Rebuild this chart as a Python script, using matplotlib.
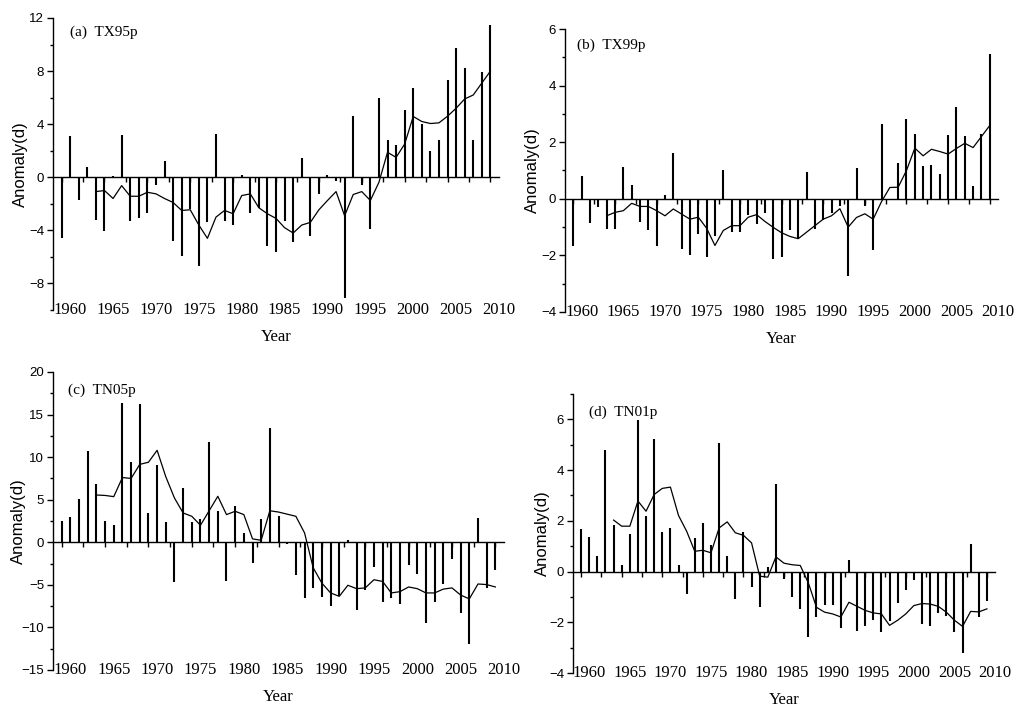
import matplotlib
matplotlib.use("Agg")
import matplotlib.pyplot as plt
import numpy as np
from matplotlib.ticker import MultipleLocator

# years of the bars and of the smoothed curve
years = list(range(1959, 2010))
line_years = list(range(1963, 2010))

tx95p = [-4.6, 3.1, -1.7, 0.75, -3.2, -4.05, 0.1, 3.2, -3.3, -3.1,
         -2.7, -0.55, 1.2, -4.8, -5.9, -2.4, -6.7, -3.4, 3.25, -3.3,
         -3.6, 0.2, -2.7, -2.3, -5.2, -5.6, -3.3, -4.9, 1.45, -4.45,
         -1.25, 0.2, -0.25, -9.1, 4.6, -0.55, -3.9, 6.0, 2.8, 2.45,
         5.05, 6.75, 4.0, 2.0, 2.8, 7.3, 9.75, 8.25, 2.8, 7.9, 11.5]
tx95p_line = [-1.08, -1.0, -1.6, -0.63, -1.43, -1.43, -1.13, -1.25, -1.6, -1.9,
              -2.5, -2.45, -3.6, -4.6, -3.0, -2.5, -2.75, -1.38, -1.25, -2.3,
              -2.75, -3.1, -3.8, -4.2, -3.6, -3.4, -2.45, -1.75, -1.08, -2.9,
              -1.3, -1.08, -1.75, -0.38, 1.88, 1.5, 2.5, 4.58, 4.2, 4.05,
              4.1, 4.6, 5.2, 5.9, 6.2, 7.1, 8.0]

tx99p = [-1.66, 0.81, -0.86, -0.3, -1.06, -1.06, 1.14, 0.47, -0.82, -1.1,
         -1.68, 0.14, 1.61, -1.76, -2.0, -1.24, -2.04, -1.33, 1.0, -1.18,
         -1.18, -0.56, -0.9, -0.5, -2.12, -2.06, -1.12, -1.4, 0.96, -1.06,
         -0.74, -0.5, -0.25, -2.74, 1.1, -0.24, -1.8, 2.65, -0.05, 1.28,
         2.82, 2.3, 1.16, 1.2, 0.87, 2.26, 3.26, 2.22, 0.44, 2.28, 5.12]
tx99p_line = [-0.6, -0.48, -0.42, -0.16, -0.27, -0.27, -0.42, -0.6, -0.36, -0.54,
              -0.72, -0.65, -1.04, -1.65, -1.12, -0.95, -0.95, -0.65, -0.56, -0.8,
              -1.01, -1.2, -1.33, -1.41, -1.18, -0.95, -0.72, -0.6, -0.35, -1.0,
              -0.66, -0.53, -0.72, -0.1, 0.4, 0.41, 1.0, 1.79, 1.52, 1.75,
              1.67, 1.58, 1.78, 1.96, 1.81, 2.2, 2.59]

tn05p = [2.54, 2.97, 5.1, 10.7, 6.85, 2.46, 2.03, 16.3, 9.4, 16.2,
         3.44, 9.1, 2.4, -4.66, 6.4, 2.4, 2.7, 11.8, 3.64, -4.5,
         4.3, 1.1, -2.43, 2.74, 13.4, 3.1, -0.2, -3.9, -6.5, -5.36,
         -6.4, -7.5, -6.3, 0.25, -8.0, -5.6, -2.9, -7.0, -6.5, -7.2,
         -2.7, -3.75, -9.5, -7.0, -4.9, -1.96, -8.3, -12.0, 2.8, -5.36, -3.2]
tn05p_line = [5.55, 5.5, 5.36, 7.6, 7.5, 9.15, 9.4, 10.8, 7.7, 5.2,
              3.44, 3.05, 2.0, 3.7, 5.4, 3.25, 3.64, 3.25, 0.4, 0.23,
              3.7, 3.55, 3.3, 3.05, 1.1, -3.0, -4.8, -5.95, -6.35, -5.05,
              -5.45, -5.36, -4.4, -4.6, -5.95, -5.8, -5.25, -5.45, -5.95, -5.95,
              -5.5, -5.36, -6.2, -6.65, -4.9, -4.97, -5.25]

tn01p = [1.66, 1.37, 0.6, 4.78, 1.83, 0.26, 1.49, 5.97, 2.21, 5.24,
         1.57, 1.7, 0.25, -0.9, 1.33, 1.92, 1.03, 5.05, 0.6, -1.07,
         1.57, -0.62, -1.4, 0.18, 3.47, -0.3, -1.0, -1.47, -2.58, -1.79,
         -1.33, -1.33, -2.22, 0.45, -2.33, -2.16, -1.9, -2.4, -1.96, -1.24,
         -0.71, -0.32, -2.05, -2.13, -1.63, -1.74, -2.38, -3.2, 1.09, -1.8, -1.17]
tn01p_line = [2.03, 1.79, 1.79, 2.78, 2.38, 3.04, 3.28, 3.33, 2.21, 1.59,
              0.8, 0.84, 0.74, 1.72, 1.96, 1.53, 1.43, 1.13, -0.18, -0.22,
              0.58, 0.33, 0.27, 0.24, -0.45, -1.41, -1.6, -1.67, -1.79, -1.21,
              -1.37, -1.53, -1.63, -1.67, -2.12, -1.92, -1.67, -1.34, -1.26, -1.28,
              -1.37, -1.6, -1.92, -2.16, -1.57, -1.59, -1.47]

xtick_labels = ['1960', '1965', '1970', '1975', '1980', '1985',
                '1990', '1995', '2000', '2005', '2010']

panels = [
    # title, bars, line, ylim, major, minor, rect, title pos, ylabel x
    ('(a)  TX95p', tx95p, tx95p_line, (-10, 12), 4, 2,
     [0.0518, 0.564, 0.4355, 0.4107], (0.038, 0.95), -0.057),
    ('(b)  TX99p', tx99p, tx99p_line, (-4, 6), 2, 1,
     [0.5518, 0.5612, 0.4229, 0.398], (0.028, 0.943), -0.058),
    ('(c)  TN05p', tn05p, tn05p_line, (-15, 20), 5, 2.5,
     [0.0518, 0.0577, 0.4404, 0.4191], (0.034, 0.94), -0.059),
    ('(d)  TN01p', tn01p, tn01p_line, (-4, 7), 2, 1,
     [0.5596, 0.0534, 0.4121, 0.3924], (0.038, 0.935), -0.055),
]

serif = 'Liberation Serif'
sans = 'Liberation Sans'

fig = plt.figure(figsize=(10.24, 7.11), dpi=100)

for title, bars, line, ylim, major, minor, rect, tpos, ylx in panels:
    ax = fig.add_axes(rect)
    # thin bars drawn as vertical strokes so they keep an even width
    ax.vlines(years, 0, bars, colors='black', linewidth=1.5,
              capstyle='butt')
    ax.plot(line_years, line, color='black', linewidth=0.9)

    ax.set_xlim(1958, 2010)
    ax.set_ylim(*ylim)

    for s in ['top', 'right', 'bottom']:
        ax.spines[s].set_visible(False)
    ax.spines['left'].set_linewidth(1.0)

    ax.yaxis.set_major_locator(MultipleLocator(major))
    ax.yaxis.set_minor_locator(MultipleLocator(minor))
    ax.tick_params(axis='y', which='major', length=4.5, width=1.0,
                   labelsize=9.5, pad=2)
    ax.tick_params(axis='y', which='minor', length=2.5, width=1.0)
    for lab in ax.get_yticklabels():
        lab.set_fontfamily(sans)

    ax.set_xticks(range(1960, 2011, 5))
    ax.set_xticklabels(xtick_labels, fontfamily=serif, fontsize=12)
    ax.tick_params(axis='x', which='both', length=0, pad=-6)

    # zero line carrying the small year ticks
    frac = (0 - ylim[0]) / (ylim[1] - ylim[0])
    zero = ax.secondary_xaxis(frac)
    zero.spines['bottom'].set_linewidth(1.0)
    zero.set_xticks(np.arange(1959, 2010, 2.5))
    zero.tick_params(axis='x', length=3.5, width=1.0, direction='out',
                     labelbottom=False)

    ax.set_xlabel('Year', fontfamily=serif, fontsize=12, labelpad=8)
    ax.set_ylabel('Anomaly(d)', fontfamily=sans, fontsize=12)
    ax.yaxis.set_label_coords(ylx, 0.5)

    ax.text(tpos[0], tpos[1], title, transform=ax.transAxes,
            fontfamily=serif, fontsize=11, ha='left', va='center')

fig.savefig('out.png', dpi=100)
